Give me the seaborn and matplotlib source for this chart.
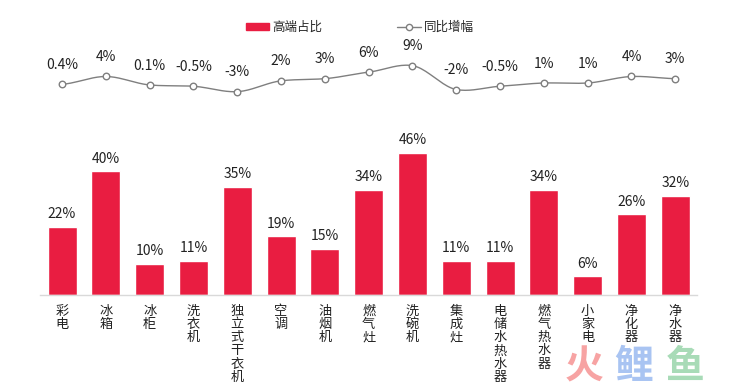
import numpy as np
import pandas as pd
import matplotlib
matplotlib.use("Agg")
import matplotlib.pyplot as plt
from matplotlib.patches import Patch
from matplotlib.lines import Line2D
import seaborn as sns

# chart data
categories = ['彩电', '冰箱', '冰柜', '洗衣机', '独立式干衣机', '空调', '油烟机', '燃气灶',
              '洗碗机', '集成灶', '电储水热水器', '燃气热水器', '小家电', '净化器', '净水器']
share = [22, 40, 10, 11, 35, 19, 15, 34, 46, 11, 11, 34, 6, 26, 32]
growth = [0.4, 4, 0.1, -0.5, -3, 2, 3, 6, 9, -2, -0.5, 1, 1, 4, 3]

RED = '#E91D41'
GREY = '#7F7F7F'

sns.set_style('white')
plt.rcParams['font.family'] = ['Noto Sans CJK SC', 'DejaVu Sans']

df = pd.DataFrame({'cat': categories, 'share': share, 'growth': growth})

fig = plt.figure(figsize=(7.3, 3.9), dpi=100)

# watermark (drawn first so it sits behind)
for ch, c, xx in [('火', '#F7A3A3', 0.80), ('鲤', '#A9C4F2', 0.868), ('鱼', '#A8DBB7', 0.938)]:
    fig.text(xx, 0.06, ch, fontsize=28, fontweight='bold', color=c, ha='center', va='center')

# bars
ax = fig.add_axes([0.055, 0.2436, 0.9, 0.397])
sns.barplot(data=df, x='cat', y='share', color=RED, width=0.66, saturation=1, ax=ax)
ax.set_xlim(-0.5, len(categories) - 0.5)
ax.set_ylim(0, 50)
for i, v in enumerate(share):
    ax.annotate(f'{v}%', (i, v), xytext=(0, 4), textcoords='offset points',
                ha='center', va='bottom', fontsize=10, color='#222222')
ax.set_xticks(range(len(categories)))
ax.set_xticklabels(['\n'.join(c) for c in categories], fontsize=9.5,
                   va='top', linespacing=1.02, color='#222222')
ax.tick_params(axis='x', length=0, pad=7)
ax.set_yticks([])
ax.set_xlabel('')
ax.set_ylabel('')
for s in ['top', 'right', 'left']:
    ax.spines[s].set_visible(False)
ax.spines['bottom'].set_color('#D9D9D9')
ax.spines['bottom'].set_linewidth(1)
ax.patch.set_alpha(0)

# growth line (smoothed like the original)
ax2 = fig.add_axes([0.055, 0.7538, 0.9, 0.089])
x = np.arange(len(growth), dtype=float)
y = np.array(growth, dtype=float)
px = np.concatenate([[x[0]], x, [x[-1]]])
py = np.concatenate([[y[0]], y, [y[-1]]])
sx, sy = [], []
t = np.linspace(0, 1, 20, endpoint=False)
for k in range(1, len(px) - 2):
    p0, p1, p2, p3 = py[k - 1], py[k], py[k + 1], py[k + 2]
    m1 = (p2 - p0) / 2 * 0.8
    m2 = (p3 - p1) / 2 * 0.8
    h00 = 2 * t**3 - 3 * t**2 + 1
    h10 = t**3 - 2 * t**2 + t
    h01 = -2 * t**3 + 3 * t**2
    h11 = t**3 - t**2
    sy.extend(h00 * p1 + h10 * m1 + h01 * p2 + h11 * m2)
    sx.extend(px[k] + t * (px[k + 1] - px[k]))
sx.append(x[-1])
sy.append(y[-1])
sns.lineplot(x=sx, y=sy, color=GREY, linewidth=1, sort=False, ax=ax2)
sns.scatterplot(x=x, y=y, s=22, color='white', edgecolor=GREY, linewidth=1, zorder=3, ax=ax2)
for i, v in enumerate(growth):
    ax2.annotate(f'{v:g}%', (i, v), xytext=(0, 14), textcoords='offset points',
                 ha='center', va='center', fontsize=10, color='#222222')
ax2.set_xlim(-0.5, len(categories) - 0.5)
ax2.set_ylim(-5, 11)
ax2.axis('off')

# legend
handles = [Patch(color=RED),
           Line2D([0], [0], color=GREY, lw=1, marker='o', markersize=4.5,
                  markerfacecolor='white', markeredgecolor=GREY)]
fig.legend(handles, ['高端占比', '同比增幅'], loc='center', bbox_to_anchor=(0.493, 0.93),
           ncol=2, frameon=False, fontsize=9, columnspacing=6, handlelength=1.85,
           handletextpad=0.3, handleheight=0.55)

fig.savefig('out.png', dpi=100)
